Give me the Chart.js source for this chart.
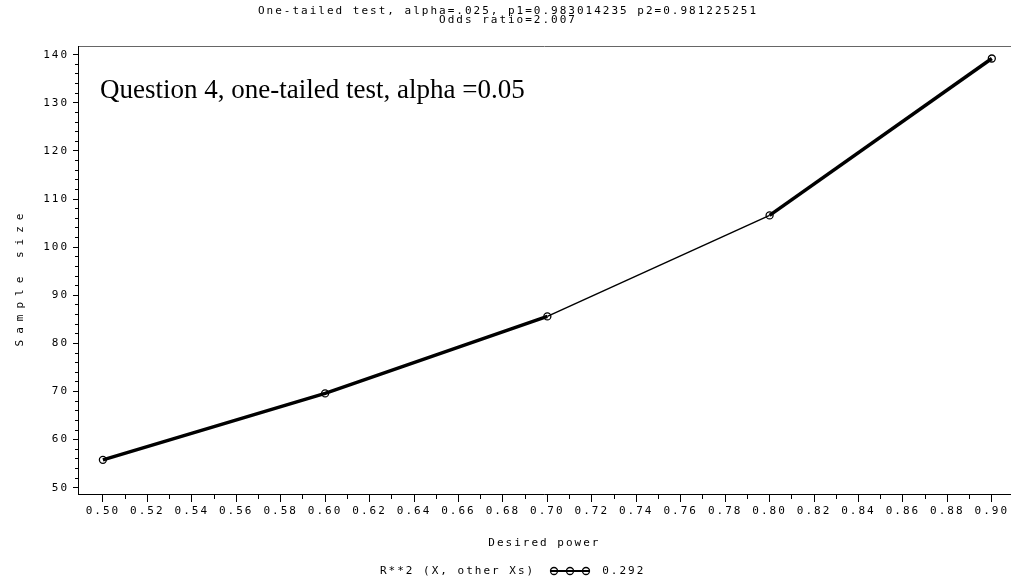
<!DOCTYPE html>
<html>
<head>
  <title>Sample size vs desired power</title>
  <script src="https://cdn.jsdelivr.net/npm/chart.js"></script>
  <style>
    body { margin: 0; background: #fff; }
    #wrap { position: relative; width: 1016px; height: 581px; }
    #legend {
      position: absolute; left: 380px; top: 564px; white-space: nowrap;
      font: 11px "DejaVu Sans Mono", monospace; letter-spacing: 2px; color: #000;
      display: flex; align-items: center;
    }
    #legend svg { margin: 0 11px 0 14px; }
  </style>
</head>
<body>
<div id="wrap">
  <canvas id="chart" width="1016" height="581"></canvas>
  <div id="legend">
    <span>R**2 (X, other Xs)</span>
    <svg width="42" height="10"><line x1="1" y1="5" x2="41" y2="5" stroke="#000" stroke-width="2"/><circle cx="5" cy="5" r="3.5" fill="none" stroke="#000" stroke-width="1.3"/><circle cx="21" cy="5" r="3.5" fill="none" stroke="#000" stroke-width="1.3"/><circle cx="37" cy="5" r="3.5" fill="none" stroke="#000" stroke-width="1.3"/></svg>
    <span>0.292</span>
  </div>
</div>
<script>
const titleLines = ['One-tailed test, alpha=.025, p1=0.983014235 p2=0.981225251', 'Odds ratio=2.007'];
const noteText = 'Question 4, one-tailed test, alpha =0.05';
const xTitle = 'Desired power';
const yTitle = 'Sample size';

const powerLevels = [0.50, 0.60, 0.70, 0.80, 0.90];
const sampleSizes = [55.8, 69.6, 85.6, 106.6, 139.2];

const xTicks = [0.50, 0.52, 0.54, 0.56, 0.58, 0.60, 0.62, 0.64, 0.66, 0.68, 0.70,
                0.72, 0.74, 0.76, 0.78, 0.80, 0.82, 0.84, 0.86, 0.88, 0.90];
const xMinorTicks = [0.51, 0.53, 0.55, 0.57, 0.59, 0.61, 0.63, 0.65, 0.67, 0.69,
                     0.71, 0.73, 0.75, 0.77, 0.79, 0.81, 0.83, 0.85, 0.87, 0.89];
const yTicks = [50, 60, 70, 80, 90, 100, 110, 120, 130, 140];
const yMinorTicks = [52, 54, 56, 58, 62, 64, 66, 68, 72, 74, 76, 78, 82, 84, 86, 88,
                     92, 94, 96, 98, 102, 104, 106, 108, 112, 114, 116, 118, 122, 124,
                     126, 128, 132, 134, 136, 138];

const X_MIN = 0.4888, X_MAX = 0.9085;
const Y_MIN = 48.7, Y_MAX = 141.8;

const sasFont = { family: '"DejaVu Sans Mono", monospace', size: 11 };

// SAS-style spaced lettering for everything drawn by the chart
const spacing = {
  id: 'spacing',
  beforeUpdate(chart) { chart.ctx.letterSpacing = '2px'; },
  beforeLayout(chart) { chart.ctx.letterSpacing = '2px'; },
  beforeDraw(chart) { chart.ctx.letterSpacing = '2px'; }
};

// the in-plot note and the widely spaced y axis title
const extraText = {
  id: 'extraText',
  afterDraw(chart) {
    const { ctx, chartArea } = chart;
    ctx.save();
    ctx.fillStyle = '#000';
    ctx.letterSpacing = '0px';
    ctx.font = '27px "Liberation Serif", "Times New Roman", serif';
    ctx.textBaseline = 'alphabetic';
    ctx.fillText(noteText, chartArea.left + 22, chartArea.top + 52);

    ctx.translate(chart.scales.y.left + 20, (chartArea.top + chartArea.bottom) / 2 + 10);
    ctx.rotate(-Math.PI / 2);
    ctx.letterSpacing = '6px';
    ctx.font = '11px ' + sasFont.family;
    ctx.textAlign = 'center';
    ctx.textBaseline = 'middle';
    ctx.fillText(yTitle, 3, 0);
    ctx.restore();
  }
};

const setTicks = list => scale => { scale.ticks = list.map(v => ({ value: v })); };

Chart.defaults.color = '#000';
Chart.defaults.font = sasFont;

new Chart(document.getElementById('chart'), {
  type: 'line',
  data: {
    datasets: [{
      label: '0.292',
      data: powerLevels.map((p, i) => ({ x: p, y: sampleSizes[i] })),
      borderColor: '#000',
      backgroundColor: 'transparent',
      borderWidth: 3.5,
      segment: {
        borderWidth: ctx => ctx.p0DataIndex === 2 ? 1.5 : 3.5
      },
      pointStyle: 'circle',
      pointRadius: 3.5,
      pointBorderWidth: 1.3,
      pointBorderColor: '#000',
      pointBackgroundColor: 'transparent',
      tension: 0
    }]
  },
  options: {
    responsive: false,
    animation: false,
    layout: { padding: { left: 0, right: 0, top: 0, bottom: 27 } },
    scales: {
      x: {
        type: 'linear',
        min: X_MIN, max: X_MAX,
        afterBuildTicks: setTicks(xTicks),
        afterFit: s => { s.height = 60; },
        border: { display: true, color: '#000', width: 1 },
        grid: { drawOnChartArea: false, tickLength: 8, color: '#000' },
        ticks: { padding: 3, maxRotation: 0, autoSkip: false, callback: v => v.toFixed(2) },
        title: { display: true, text: xTitle, padding: { top: 4, bottom: 4 } }
      },
      xMinor: {
        type: 'linear',
        position: { y: Y_MIN },
        min: X_MIN, max: X_MAX,
        afterBuildTicks: setTicks(xMinorTicks),
        border: { display: false },
        grid: { drawOnChartArea: false, tickLength: 5, color: '#000' },
        ticks: { display: false }
      },
      xTop: {
        type: 'linear',
        position: 'top',
        min: X_MIN, max: X_MAX,
        afterFit: s => { s.height = 0; },
        border: { display: true, color: '#666', width: 1 },
        grid: { display: false },
        ticks: { display: false }
      },
      y: {
        type: 'linear',
        min: Y_MIN, max: Y_MAX,
        afterBuildTicks: setTicks(yTicks),
        afterFit: s => { s.width = 78; },
        border: { display: true, color: '#000', width: 1 },
        grid: { drawOnChartArea: false, tickLength: 5, color: '#000' },
        ticks: { padding: 4 },
        title: { display: false }
      },
      yMinor: {
        type: 'linear',
        position: { x: X_MIN },
        min: Y_MIN, max: Y_MAX,
        afterBuildTicks: setTicks(yMinorTicks),
        border: { display: false },
        grid: { drawOnChartArea: false, tickLength: 3, color: '#000' },
        ticks: { display: false }
      }
    },
    plugins: {
      legend: { display: false },
      tooltip: { enabled: false },
      title: {
        display: true,
        text: titleLines,
        color: '#000',
        font: { family: sasFont.family, size: 11, weight: 'normal', lineHeight: 0.85 },
        padding: { top: 6, bottom: 21.3 }
      }
    }
  },
  plugins: [spacing, extraText]
});
</script>
</body>
</html>
